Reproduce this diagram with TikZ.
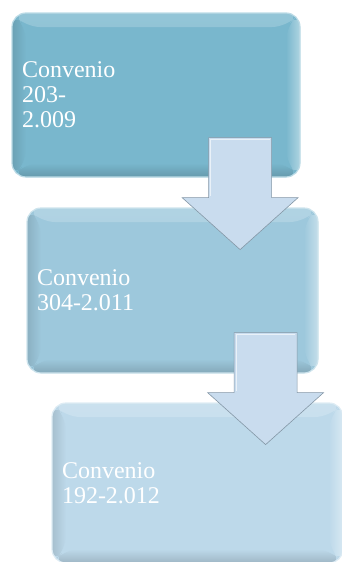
\documentclass[tikz,border=0pt]{standalone}
\usepackage{fontspec}
\setmainfont{Liberation Serif}
\usetikzlibrary{calc}

\definecolor{convA}{HTML}{79B7CD}
\definecolor{convB}{HTML}{9DC8DC}
\definecolor{convC}{HTML}{BDD9EA}
\definecolor{flecha}{HTML}{C9DCEE}
\definecolor{flechaborde}{HTML}{8497A6}

\tikzset{
  convbox/.style={rectangle, rounded corners=14pt, fill=#1, draw=#1!50!white,
    line width=1.2pt, text=white, align=left, inner xsep=10pt,
    font=\fontsize{24}{25}\selectfont,
    path picture={
      \shade[top color=#1!80!white, bottom color=#1] (path picture bounding box.north west)
        -- (path picture bounding box.north east)
        -- ++(-14,14) -- ($(path picture bounding box.north west)+(14,14)$) -- cycle;
      \shade[left color=#1!88!black, right color=#1] (path picture bounding box.north west)
        -- (path picture bounding box.south west)
        -- ++(14,-14) -- ($(path picture bounding box.north west)+(14,14)$) -- cycle;
      \shade[bottom color=#1!84!black, top color=#1] (path picture bounding box.south west)
        -- (path picture bounding box.south east)
        -- ++(-14,-14) -- ($(path picture bounding box.south west)+(14,-14)$) -- cycle;
      \shade[right color=#1!60!white, left color=#1] (path picture bounding box.north east)
        -- (path picture bounding box.south east)
        -- ++(-14,-14) -- ($(path picture bounding box.north east)+(-14,14)$) -- cycle;
    }},
  blockarrow/.style={fill=flecha, draw=flechaborde, line width=0.6pt, line join=miter},
}

% flecha de bloque hacia abajo
\newcommand\flechabloque[1]{
  \draw[blockarrow] ($(#1)+(-31.5,0)$) -- ++(0,60) -- ++(-26.5,0) -- ($(#1)+(0,112)$)
    -- ($(#1)+(58,60)$) -- ++(-26.5,0) -- ($(#1)+(31.5,0)$) -- cycle;
  \draw[white, opacity=0.6, line width=1pt] ($(#1)+(-29.5,58)$) -- ($(#1)+(-29.5,2)$) -- ($(#1)+(29.5,2)$);
}

\begin{document}
\begin{tikzpicture}[x=1pt, y=-1pt]
    \useasboundingbox (0,0) rectangle (341,562);

    % 1. Cajas
    \node[convbox=convA, text width=268pt, minimum height=164pt] (conv1) at (156,95)
        {Convenio\\203-\\2.009};
    \node[convbox=convB, text width=271pt, minimum height=165pt] (conv2) at (172.5,290.5)
        {Convenio\\304-2.011};
    \node[convbox=convC, text width=271pt, minimum height=160pt] (conv3) at (197.5,483)
        {Convenio\\192-2.012};

    % 2. Flechas
    \coordinate (arr1) at ($(conv1.south east)+(-60.5,-40)$);
    \coordinate (arr2) at ($(conv2.south east)+(-53,-41)$);
    \flechabloque{arr1}
    \flechabloque{arr2}
\end{tikzpicture}
\end{document}
